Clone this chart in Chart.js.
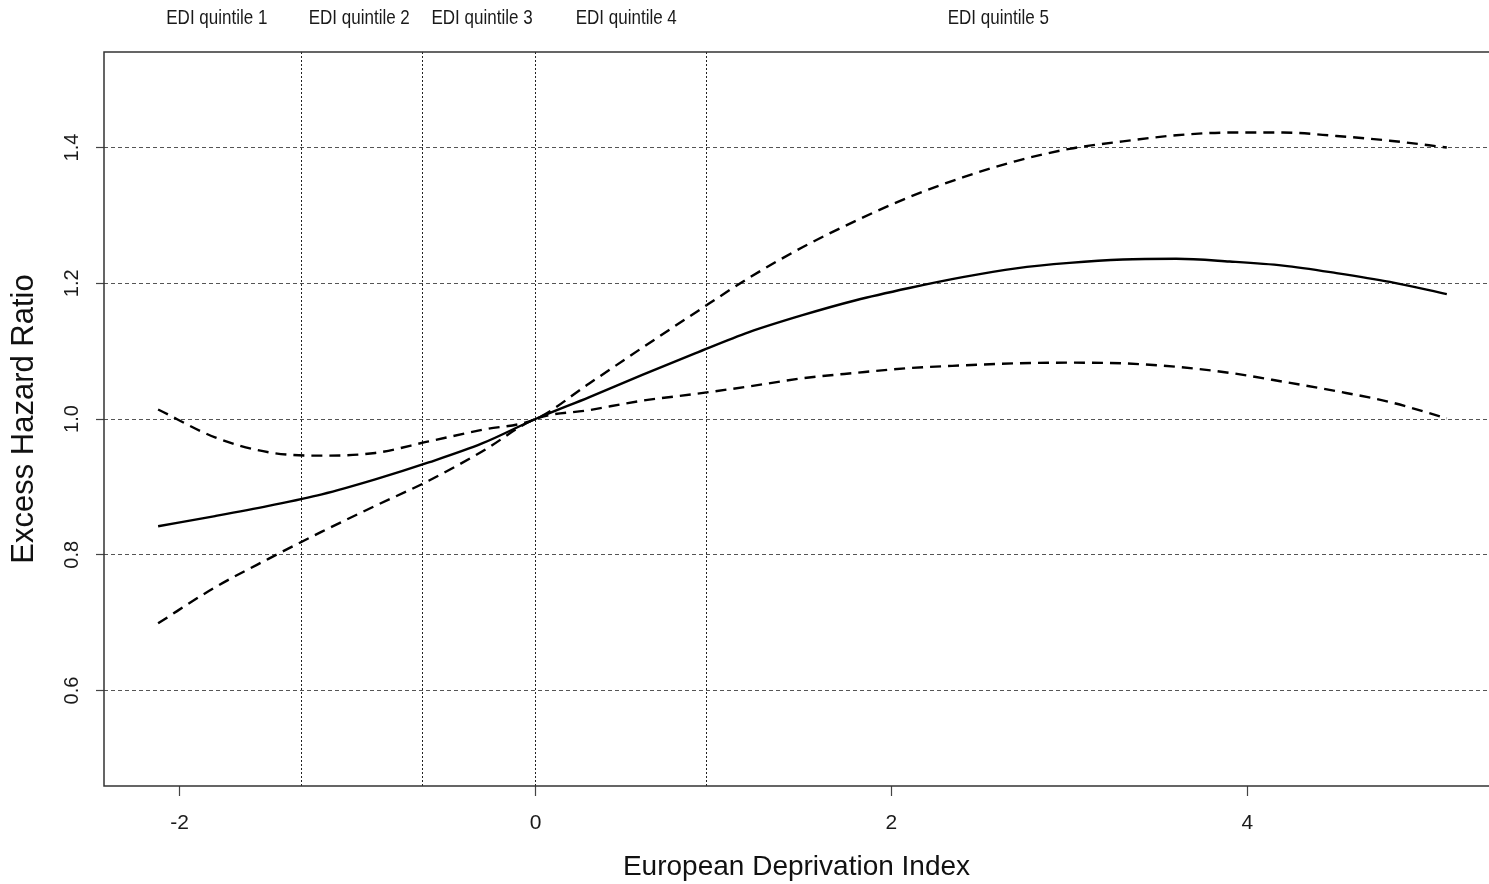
<!DOCTYPE html>
<html>
<head>
<meta charset="utf-8">
<script src="https://cdn.jsdelivr.net/npm/chart.js@4.4.0/dist/chart.umd.min.js"></script>
<style>
  html, body { margin: 0; padding: 0; background: #ffffff; }
  #wrap { width: 1489px; height: 884px; position: relative; }
</style>
</head>
<body>
<div id="wrap"><canvas id="c"></canvas></div>
<script>
// ---- data ----
const edi = [-2.12, -1.8, -1.5, -1.2, -0.9, -0.6, -0.3, 0, 0.3, 0.6, 0.9, 1.2, 1.5, 1.8, 2.1, 2.4, 2.7, 3.0, 3.3, 3.6, 3.9, 4.2, 4.5, 4.8, 5.12];
const ehr = [0.842, 0.857, 0.872, 0.889, 0.911, 0.936, 0.964, 1.0, 1.032, 1.065, 1.097, 1.128, 1.153, 1.175, 1.193, 1.209, 1.222, 1.230, 1.235, 1.236, 1.232, 1.226, 1.215, 1.202, 1.184];
const upperCI = [1.014, 0.973, 0.951, 0.946, 0.950, 0.967, 0.984, 1.0, 1.052, 1.105, 1.157, 1.208, 1.253, 1.292, 1.327, 1.356, 1.380, 1.398, 1.409, 1.418, 1.422, 1.422, 1.417, 1.410, 1.400];
const lowerCI = [0.699, 0.752, 0.794, 0.834, 0.872, 0.909, 0.952, 1.0, 1.013, 1.027, 1.037, 1.048, 1.060, 1.068, 1.075, 1.079, 1.082, 1.083, 1.082, 1.077, 1.068, 1.055, 1.041, 1.025, 1.001];
const quintileBounds = [-1.315, -0.64, 0, 0.96];
const quintileLabels = ["EDI quintile 1", "EDI quintile 2", "EDI quintile 3", "EDI quintile 4", "EDI quintile 5"];
const quintileLabelX = [-1.79, -0.99, -0.30, 0.51, 2.60];
const xTicks = [-2, 0, 2, 4];
const yTicks = [0.6, 0.8, 1.0, 1.2, 1.4];
const xRange = [-2.424, 5.357];
const yRange = [0.4593, 1.5407];

const pts = (ys) => edi.map((x, i) => ({ x: x, y: ys[i] }));

const framePlugin = {
  id: 'frame',
  beforeDatasetsDraw(chart) {
    const { ctx, chartArea: a, scales: { x } } = chart;
    ctx.save();
    ctx.strokeStyle = '#222';
    ctx.lineWidth = 1;
    ctx.setLineDash([2, 2]);
    quintileBounds.forEach(v => {
      const px = Math.round(x.getPixelForValue(v)) + 0.5;
      ctx.beginPath();
      ctx.moveTo(px, a.top);
      ctx.lineTo(px, a.bottom);
      ctx.stroke();
    });
    ctx.restore();
  },
  afterDraw(chart) {
    const { ctx, chartArea: a, scales: { x } } = chart;
    ctx.save();
    ctx.strokeStyle = '#333';
    ctx.lineWidth = 1.5;
    ctx.setLineDash([]);
    ctx.beginPath();
    ctx.moveTo(chart.width, a.top);
    ctx.lineTo(a.left, a.top);
    ctx.lineTo(a.left, a.bottom);
    ctx.lineTo(chart.width, a.bottom);
    ctx.stroke();
    // quintile labels
    ctx.fillStyle = '#1a1a1a';
    ctx.font = '21px "Liberation Sans", Arial, sans-serif';
    ctx.textAlign = 'center';
    ctx.textBaseline = 'middle';
    quintileLabels.forEach((t, i) => {
      const px = x.getPixelForValue(quintileLabelX[i]);
      ctx.save();
      ctx.translate(px, 18);
      ctx.scale(0.81, 1);
      ctx.fillText(t, 0, 0);
      ctx.restore();
    });
    ctx.restore();
  }
};

new Chart(document.getElementById('c'), {
  type: 'line',
  data: {
    datasets: [
      { label: 'Excess hazard ratio', data: pts(ehr), borderColor: '#000', borderWidth: 2.4, pointRadius: 0, cubicInterpolationMode: 'monotone', fill: false },
      { label: 'Upper 95% CI', data: pts(upperCI), borderColor: '#000', borderWidth: 2.4, borderDash: [11, 7], pointRadius: 0, cubicInterpolationMode: 'monotone', fill: false },
      { label: 'Lower 95% CI', data: pts(lowerCI), borderColor: '#000', borderWidth: 2.4, borderDash: [11, 7], pointRadius: 0, cubicInterpolationMode: 'monotone', fill: false }
    ]
  },
  options: {
    responsive: true,
    maintainAspectRatio: false,
    animation: false,
    layout: { padding: { top: 52, right: 0, bottom: 0, left: 0 } },
    plugins: { legend: { display: false }, tooltip: { enabled: false } },
    scales: {
      x: {
        type: 'linear',
        min: xRange[0],
        max: xRange[1],
        afterBuildTicks: (s) => { s.ticks = xTicks.map(v => ({ value: v })); },
        afterFit: (s) => { s.height = 98; },
        border: { display: false },
        grid: { drawOnChartArea: false, drawTicks: true, tickLength: 10, tickColor: '#444', tickWidth: 1.2 },
        ticks: { color: '#1a1a1a', font: { family: '"Liberation Sans", Arial, sans-serif', size: 21 }, padding: 15, maxRotation: 0, autoSkip: false },
        title: { display: true, text: 'European Deprivation Index', color: '#111', font: { family: '"Liberation Sans", Arial, sans-serif', size: 28 }, padding: { top: 0, bottom: 0 } }
      },
      y: {
        type: 'linear',
        min: yRange[0],
        max: yRange[1],
        afterBuildTicks: (s) => { s.ticks = yTicks.map(v => ({ value: v })); },
        afterFit: (s) => { s.width = 104; },
        border: { display: false, dash: [4, 3] },
        grid: { color: '#555', lineWidth: 1, drawTicks: true, tickLength: 8, tickColor: '#444', tickWidth: 1.2, tickBorderDash: [] },
        ticks: { color: '#1a1a1a', font: { family: '"Liberation Sans", Arial, sans-serif', size: 20 }, padding: 10, minRotation: 90, maxRotation: 90, crossAlign: 'center', callback: (v) => Number(v).toFixed(1) },
        title: { display: true, text: 'Excess Hazard Ratio', color: '#111', font: { family: '"Liberation Sans", Arial, sans-serif', size: 31 }, padding: { top: 6, bottom: 0 } }
      }
    }
  },
  plugins: [framePlugin]
});
</script>
</body>
</html>
